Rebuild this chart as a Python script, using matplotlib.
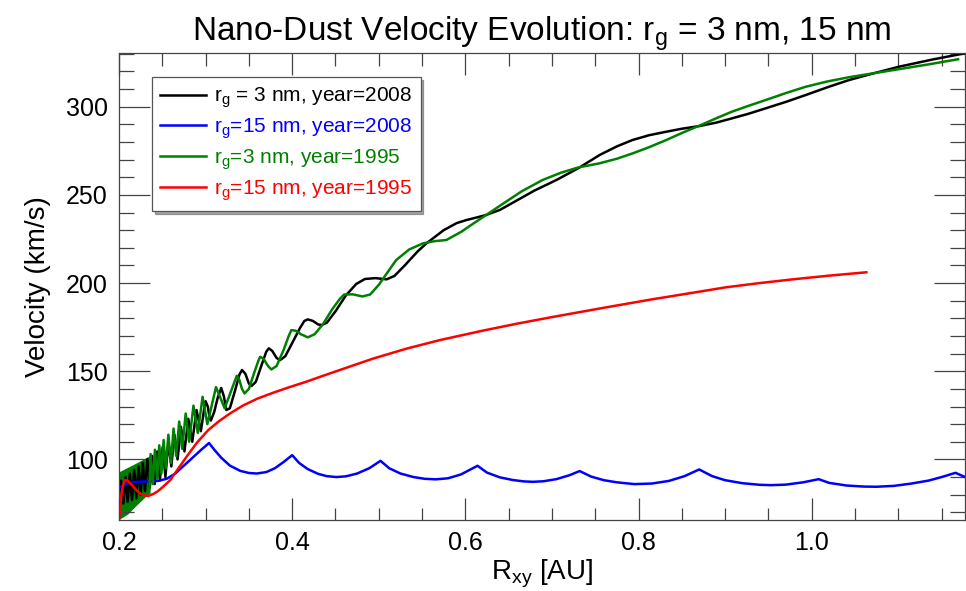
import numpy as np
import matplotlib
matplotlib.use('Agg')
import matplotlib.pyplot as plt

plt.rcParams['font.family'] = ['Liberation Sans', 'DejaVu Sans']
plt.rcParams['mathtext.default'] = 'regular'

# r_g = 3 nm, year 2008 (black)
x_3nm_2008 = [0.200, 0.2025, 0.205, 0.2075, 0.210, 0.2125, 0.215, 0.2175, 0.220, 0.2225,
              0.225, 0.2275, 0.230, 0.2328, 0.2356, 0.2384, 0.2412, 0.2442, 0.2472, 0.2504,
              0.2536, 0.2570, 0.2604, 0.2640, 0.2676, 0.2715, 0.2756, 0.2800, 0.2846, 0.2895,
              0.2945, 0.297, 0.299, 0.300, 0.3025, 0.3045, 0.306, 0.310, 0.314, 0.318,
              0.321, 0.324, 0.328, 0.334, 0.339, 0.342, 0.346, 0.350, 0.353, 0.358,
              0.365, 0.370, 0.373, 0.377, 0.382, 0.386, 0.392, 0.400, 0.409, 0.414,
              0.418, 0.424, 0.430, 0.434, 0.440, 0.450, 0.462, 0.474, 0.484, 0.496,
              0.509, 0.518, 0.530, 0.545, 0.555, 0.575, 0.590, 0.601, 0.614, 0.624,
              0.640, 0.660, 0.680, 0.705, 0.730, 0.755, 0.775, 0.793, 0.812, 0.832,
              0.850, 0.870, 0.890, 0.908, 0.927, 0.947, 0.970, 0.993, 1.018, 1.043,
              1.072, 1.101, 1.140, 1.177]
v_3nm_2008 = [74, 88, 75, 90, 76, 92, 77, 94, 78, 96,
              80, 98, 82, 100, 84, 102, 86, 104.5, 88, 107,
              90, 110, 96, 114, 100, 118.5, 104.5, 123, 110, 128,
              116, 124, 131, 133, 130, 124, 122, 127, 135, 140.5,
              136, 128, 129, 139, 148, 150.7, 148.5, 143, 141.6, 144,
              154, 161, 163, 161.5, 157.5, 156.3, 158.5, 166, 174.5, 178.5,
              179.4, 178.5, 176.5, 176.2, 177.5, 184, 193, 199.5, 202.3, 202.8,
              202.1, 204, 210, 218, 222.5, 230, 234, 235.7, 237.3, 238.6,
              241.5, 247, 252.5, 258.4, 265, 272.6, 277.5, 281.1, 283.8, 285.8,
              287.5, 289, 291, 293.4, 296, 299.1, 302.7, 306.6, 311, 315.1,
              319, 322.7, 326.8, 330.3]

# r_g = 15 nm, year 2008 (blue)
x_15nm_2008 = [0.200, 0.210, 0.220, 0.235, 0.245, 0.255, 0.265, 0.275, 0.285, 0.295,
               0.304, 0.310, 0.318, 0.328, 0.340, 0.350, 0.359, 0.370, 0.380, 0.390,
               0.400, 0.408, 0.418, 0.430, 0.440, 0.451, 0.462, 0.475, 0.489, 0.502,
               0.512, 0.525, 0.540, 0.553, 0.566, 0.580, 0.595, 0.614, 0.625, 0.640,
               0.655, 0.668, 0.678, 0.690, 0.705, 0.720, 0.732, 0.745, 0.760, 0.775,
               0.795, 0.815, 0.835, 0.853, 0.870, 0.885, 0.900, 0.920, 0.940, 0.953,
               0.970, 0.990, 1.008, 1.020, 1.040, 1.060, 1.075, 1.095, 1.115, 1.135,
               1.150, 1.166, 1.177]
v_15nm_2008 = [84, 86.5, 87.3, 87.5, 87.8, 89, 92, 96.5, 101, 105.5,
               109.3, 105.5, 101, 96.5, 93.5, 92.3, 92.0, 92.8, 95, 98.5,
               102.4, 98, 94.5, 91.8, 90.5, 90.0, 90.4, 92, 95, 99.2,
               95, 92, 90, 89, 88.7, 89.3, 91.5, 96.4, 92.5, 89.8,
               88.3, 87.5, 87.3, 87.6, 88.8, 91, 93.4, 90.3, 88.2, 87,
               86.0, 86.3, 87.8, 90.5, 94.3, 90.5, 88.2, 86.5, 85.6, 85.4,
               85.7, 87, 88.8, 86.7, 85.2, 84.6, 84.5, 85, 86.3, 88,
               90, 92.4, 90]

# r_g = 3 nm, year 1995 (green): dense band near 0.2, then resolved wiggles
x_band = [0.200, 0.210, 0.220, 0.235]
v_band_hi = [93, 95.5, 98, 102]
v_band_lo = [66, 69, 74, 81]
x_3nm_1995 = [0.235, 0.2365, 0.239, 0.2415, 0.244, 0.2465, 0.249, 0.2515, 0.254, 0.257,
              0.260, 0.263, 0.266, 0.2695, 0.273, 0.277, 0.281, 0.286, 0.291, 0.2965,
              0.302, 0.312, 0.322, 0.336, 0.339, 0.342, 0.345, 0.350, 0.356, 0.361,
              0.363, 0.367, 0.372, 0.376, 0.382, 0.390, 0.396, 0.399, 0.404, 0.410,
              0.418, 0.426, 0.436, 0.446, 0.455, 0.460, 0.470, 0.481, 0.490, 0.500,
              0.510, 0.520, 0.535, 0.551, 0.565, 0.578, 0.595, 0.610, 0.624, 0.645,
              0.665, 0.689, 0.710, 0.730, 0.755, 0.775, 0.793, 0.812, 0.832, 0.852,
              0.872, 0.890, 0.908, 0.927, 0.947, 0.970, 0.993, 1.018, 1.043, 1.072,
              1.101, 1.135, 1.169]
v_3nm_1995 = [81, 103, 86, 105.5, 89, 108, 92, 111, 95, 114,
              98, 117.5, 102, 121.5, 106, 126, 110, 130.5, 115, 135.5,
              120, 141, 129, 147.4, 145, 140, 137.4, 140, 149, 156,
              158.2, 157, 153, 151, 153, 162, 170, 173.3, 173, 171,
              169.2, 171, 177, 185, 191, 193.5, 193.6, 192.4, 193.5, 199,
              206, 213, 219, 222.5, 223.8, 224.4, 229, 234, 238.6, 245.5,
              252, 258.4, 262.5, 265.5, 267.9, 270.5, 273.5, 277, 281.1, 285.5,
              289.6, 293.5, 297.2, 300.5, 303.8, 307.7, 311.3, 314.3, 316.7, 319,
              321.3, 324, 326.9]

# r_g = 15 nm, year 1995 (red)
x_15nm_1995 = [0.200, 0.2015, 0.203, 0.205, 0.207, 0.210, 0.215, 0.220, 0.225, 0.230,
               0.234, 0.240, 0.245, 0.252, 0.259, 0.268, 0.278, 0.290, 0.303, 0.315,
               0.328, 0.343, 0.360, 0.378, 0.397, 0.416, 0.435, 0.455, 0.493, 0.532,
               0.570, 0.620, 0.660, 0.700, 0.760, 0.816, 0.860, 0.901, 0.940, 0.978,
               1.020, 1.063]
v_15nm_1995 = [65.6, 74, 81, 86, 88.3, 88, 85.5, 82.5, 80.5, 79.5,
               79.3, 80.5, 82, 85, 88.2, 94.5, 101.5, 109.5, 116.6, 121.5,
               126, 130.5, 134.5, 137.8, 141, 144, 147.3, 150.7, 157.1, 162.8,
               167.6, 173, 177, 180.7, 186, 190.8, 194.3, 197.6, 200, 202.1,
               204.2, 206.1]

fig = plt.figure(figsize=(9.66, 5.91), dpi=100)
ax = fig.add_axes([0.1232, 0.120, 0.8758, 0.7908])

lw = 1.8
ax.plot(x_3nm_2008, v_3nm_2008, color='black', lw=lw, label=r'r$_g$ = 3 nm, year=2008')
ax.plot(x_15nm_2008, v_15nm_2008, color='#0000ff', lw=lw, label=r'r$_g$=15 nm, year=2008')
ax.fill_between(x_band, v_band_lo, v_band_hi, color='#008000', lw=0)
ax.plot(x_3nm_1995, v_3nm_1995, color='#008000', lw=lw, label=r'r$_g$=3 nm, year=1995')
ax.plot(x_15nm_1995, v_15nm_1995, color='#ff0000', lw=lw, label=r'r$_g$=15 nm, year=1995')

ax.set_xlim(0.2, 1.177)
ax.set_ylim(65.6, 330.6)
ax.set_xticks([0.2, 0.4, 0.6, 0.8, 1.0])
ax.set_xticklabels(['0.2', '0.4', '0.6', '0.8', '1.0'])
ax.set_xticks(np.arange(0.25, 1.18, 0.05), minor=True)
ax.set_yticks([100, 150, 200, 250, 300])
ax.set_yticks(np.arange(70, 331, 10), minor=True)
ax.tick_params(which='both', direction='in', top=True, right=True, color='#444444', width=0.9,
               labelsize=18, pad=8)
ax.tick_params(axis='x', which='major', length=16)
ax.tick_params(axis='x', which='minor', length=9)
ax.tick_params(axis='y', which='major', length=22)
ax.tick_params(axis='y', which='minor', length=11)
for s in ax.spines.values():
    s.set_color('#444444')
    s.set_linewidth(0.9)

ax.set_xlabel(r'R$_{xy}$ [AU]', fontsize=20, labelpad=2)
ax.set_ylabel('Velocity (km/s)', fontsize=20, labelpad=11)
ax.set_title(r'Nano-Dust Velocity Evolution: r$_g$ = 3 nm, 15 nm', fontsize=24, pad=6)

leg = ax.legend(loc='upper left', bbox_to_anchor=(0.0387, 0.947), fontsize=15, frameon=True,
                fancybox=False, shadow=True, borderpad=0.4, handlelength=2.2, handletextpad=0.4,
                labelspacing=0.3, borderaxespad=0)
leg.get_frame().set_edgecolor('#555555')
leg.get_frame().set_linewidth(0.9)
for txt, ln in zip(leg.get_texts(), leg.get_lines()):
    txt.set_color(ln.get_color())

fig.savefig('out.png', dpi=100)
